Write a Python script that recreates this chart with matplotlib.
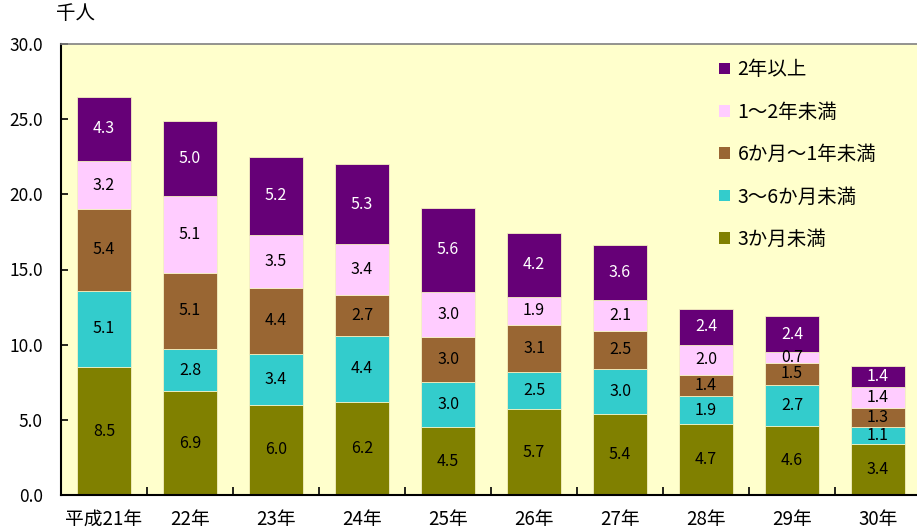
import matplotlib
matplotlib.use("Agg")
import matplotlib.pyplot as plt
import numpy as np
from matplotlib.patches import Patch

plt.rcParams['font.family'] = ['Noto Sans CJK JP', 'DejaVu Sans']

years = ["平成21年", "22年", "23年", "24年", "25年", "26年", "27年", "28年", "29年", "30年"]
series_names = ["3か月未満", "3～6か月未満", "6か月～1年未満", "1～2年未満", "2年以上"]
v_lt3m = [8.5, 6.9, 6.0, 6.2, 4.5, 5.7, 5.4, 4.7, 4.6, 3.4]
v_3to6m = [5.1, 2.8, 3.4, 4.4, 3.0, 2.5, 3.0, 1.9, 2.7, 1.1]
v_6mto1y = [5.4, 5.1, 4.4, 2.7, 3.0, 3.1, 2.5, 1.4, 1.5, 1.3]
v_1to2y = [3.2, 5.1, 3.5, 3.4, 3.0, 1.9, 2.1, 2.0, 0.7, 1.4]
v_ge2y = [4.3, 5.0, 5.2, 5.3, 5.6, 4.2, 3.6, 2.4, 2.4, 1.4]
yticks = [0.0, 5.0, 10.0, 15.0, 20.0, 25.0, 30.0]

series = [v_lt3m, v_3to6m, v_6mto1y, v_1to2y, v_ge2y]
colors = ["#808000", "#33CCCC", "#996633", "#FFCCFF", "#660077"]
text_colors = ["black", "black", "black", "black", "white"]

fig = plt.figure(figsize=(9.17, 5.30), dpi=100)
ax = fig.add_axes([61/917, 1-495/530, 860/917, 451/530])
ax.set_facecolor("#FFFFCC")

x = np.arange(len(years))
bottom = np.zeros(len(years))
for vals, c, tc in zip(series, colors, text_colors):
    vals = np.array(vals)
    ax.bar(x, vals, bottom=bottom, width=0.62, color=c, edgecolor="#F4F0C0", linewidth=0.6, zorder=2)
    for xi, b, v in zip(x, bottom, vals):
        ax.text(xi, b + v/2, f"{v:.1f}", ha="center", va="center", color=tc, fontsize=11.5, zorder=3)
    bottom += vals

ax.set_xlim(-0.5, len(years) - 0.5)
ax.set_ylim(0, 30)
ax.set_yticks(yticks)
ax.set_yticklabels([f"{t:.1f}" for t in yticks], fontsize=12.5)
ax.tick_params(axis="y", direction="in", length=5, width=1.2, pad=13)

ax.set_xticks(x)
ax.set_xticklabels(years, fontsize=13.5)
ax.tick_params(axis="x", length=0, pad=10)
ax.set_xticks(x[:-1] + 0.5, minor=True)
ax.tick_params(axis="x", which="minor", direction="in", length=6, width=1.2)

for s in ["left", "bottom"]:
    ax.spines[s].set_linewidth(1.5)
    ax.spines[s].set_color("black")
ax.spines["top"].set_color("#808080")
ax.spines["top"].set_linewidth(1.2)
ax.spines["right"].set_visible(False)

ax.text(-0.006, 1.045, "千人", transform=ax.transAxes, fontsize=14, ha="left", va="bottom")

handles = [Patch(facecolor=c, edgecolor="none") for c in colors][::-1]
labels = series_names[::-1]
leg = ax.legend(handles, labels, loc="upper left", bbox_to_anchor=(0.745, 1.005),
                frameon=False, fontsize=14, handlelength=0.55, handleheight=0.55,
                handletextpad=0.4, labelspacing=1.1)

fig.savefig("out.png", dpi=100, facecolor="white")
